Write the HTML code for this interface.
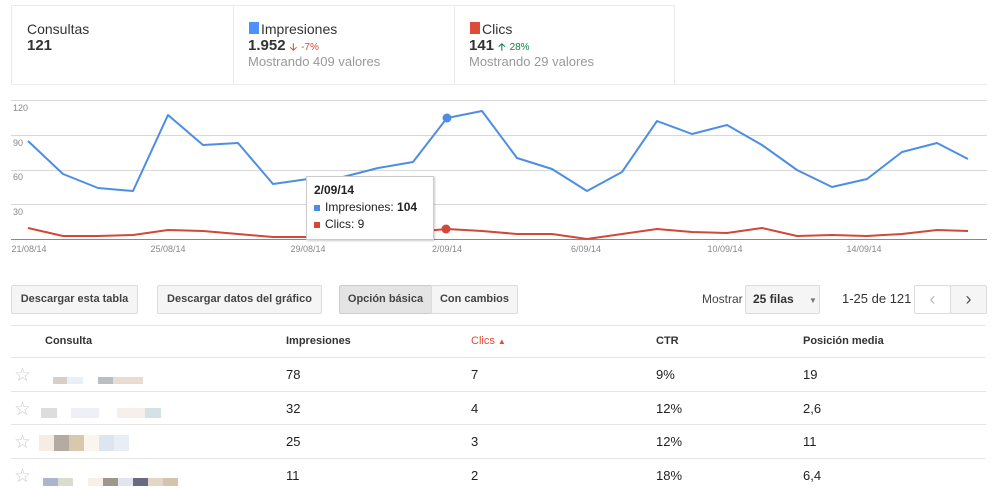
<!DOCTYPE html>
<html><head><meta charset="utf-8"><style>
*{margin:0;padding:0;box-sizing:border-box}
body{width:1008px;height:486px;background:#fff;font-family:"Liberation Sans",Arial,sans-serif;position:relative;overflow:hidden;color:#222}
.a{position:absolute;white-space:nowrap}
.btn{position:absolute;height:29px;border:1px solid #dcdcdc;background:#f5f5f5;font-size:11px;font-weight:bold;color:#444;text-align:center;line-height:27px;border-radius:2px}
.th{position:absolute;top:335px;font-size:11px;font-weight:bold;color:#333}
.td{position:absolute;font-size:13px;color:#222}
.hl{position:absolute;left:11px;width:975px;height:1px;background:#e5e5e5}
.star{position:absolute;left:14px;font-size:19px;color:#ccc}
.px{position:absolute;height:7px}
</style></head><body>
<div class="a" style="left:11px;top:5px;width:664px;height:80px;border:1px solid #ebebeb"></div>
<div class="a" style="left:233px;top:5px;width:1px;height:80px;background:#ebebeb"></div>
<div class="a" style="left:454px;top:5px;width:1px;height:80px;background:#ebebeb"></div>
<div class="a" style="left:11px;top:84px;width:976px;height:1px;background:#ebebeb"></div>
<div class="a" style="left:27px;top:21px;font-size:14px;color:#333">Consultas</div>
<div class="a" style="left:27px;top:37px;font-size:15px;font-weight:bold;color:#333">121</div>
<div class="a" style="left:249px;top:22px;width:10px;height:12px;background:#4d90fe"></div>
<div class="a" style="left:261px;top:21px;font-size:14px;color:#333">Impresiones</div>
<div class="a" style="left:248px;top:37px;font-size:15px;font-weight:bold;color:#333">1.952 <span style="color:#dd4b39;font-size:10px">&#129123;</span> <span style="color:#dd4b39;font-size:10px;font-weight:normal">-7%</span></div>
<div class="a" style="left:248px;top:54px;font-size:13px;color:#999">Mostrando 409 valores</div>
<div class="a" style="left:470px;top:22px;width:10px;height:12px;background:#dd4b39"></div>
<div class="a" style="left:482px;top:21px;font-size:14px;color:#333">Clics</div>
<div class="a" style="left:469px;top:37px;font-size:15px;font-weight:bold;color:#333">141 <span style="color:#0b8043;font-size:10px">&#129121;</span> <span style="color:#0b8043;font-size:10px;font-weight:normal">28%</span></div>
<div class="a" style="left:469px;top:54px;font-size:13px;color:#999">Mostrando 29 valores</div>

<svg class="a" style="left:0;top:0" width="1008" height="270">
<g stroke="#d8d8d8" stroke-width="1">
<line x1="11" x2="987" y1="100.5" y2="100.5"/><line x1="11" x2="987" y1="135.5" y2="135.5"/><line x1="11" x2="987" y1="170.5" y2="170.5"/><line x1="11" x2="987" y1="204.5" y2="204.5"/></g>
<line x1="11" x2="987" y1="239.5" y2="239.5" stroke="#888"/>
<g font-size="9" fill="#888" font-family="Liberation Sans">
<text x="13" y="111">120</text><text x="13" y="146">90</text><text x="13" y="180">60</text><text x="13" y="215">30</text>
<g text-anchor="middle"><text x="29" y="252">21/08/14</text><text x="168" y="252">25/08/14</text><text x="308" y="252">29/08/14</text><text x="447" y="252">2/09/14</text><text x="586" y="252">6/09/14</text><text x="725" y="252">10/09/14</text><text x="864" y="252">14/09/14</text></g></g>
<polyline fill="none" stroke="#4d8ee3" stroke-width="2" stroke-linejoin="round" points="28,141 63,174 98,188 133,191 168,115 203,145 238,143 273,184 308,179 343,177 378,168 413,162 447,118 482,111 517,158 552,169 587,191 622,172 657,121 692,134 727,125 762,145 797,170 832,187 867,179 902,152 937,143 968,159"/>
<polyline fill="none" stroke="#d14836" stroke-width="2" stroke-linejoin="round" points="28,228 63,236 98,236 133,235 168,230 203,231 238,234 273,237 308,237 343,236 378,234 413,232 447,229 482,231 517,234 552,234 587,239 622,234 657,229 692,232 727,233 762,228 797,236 832,235 867,236 902,234 937,230 968,231"/>
<circle cx="447" cy="118" r="4.5" fill="#4d8ee3"/><circle cx="446" cy="229" r="4.5" fill="#d14836"/>
</svg>
<div class="a" style="left:306px;top:176px;width:128px;height:64px;background:#fff;border:1px solid #ccc;box-shadow:1px 1px 2px rgba(0,0,0,.2)"></div>
<div class="a" style="left:314px;top:183px;font-size:12px;font-weight:bold">2/09/14</div>
<div class="a" style="left:314px;top:205px;width:6px;height:6px;background:#4d8ee3"></div>
<div class="a" style="left:325px;top:200px;font-size:12px">Impresiones: <b>104</b></div>
<div class="a" style="left:314px;top:222px;width:6px;height:6px;background:#d14836"></div>
<div class="a" style="left:325px;top:217px;font-size:12px">Clics: 9</div>

<div class="btn" style="left:11px;top:285px;width:127px">Descargar esta tabla</div>
<div class="btn" style="left:157px;top:285px;width:165px">Descargar datos del gráfico</div>
<div class="btn" style="left:339px;top:285px;width:93px;background:#e4e4e4;border-color:#ccc">Opción básica</div>
<div class="btn" style="left:431px;top:285px;width:87px">Con cambios</div>
<div class="a" style="left:702px;top:292px;font-size:12px;color:#444">Mostrar</div>
<div class="btn" style="left:745px;top:285px;width:75px;text-align:left;padding-left:7px;color:#333;font-size:12px">25 filas <span style="color:#777;font-size:8px;margin-left:12px">&#9660;</span></div>
<div class="a" style="left:842px;top:291px;font-size:13px;color:#333">1-25 de 121</div>
<div class="btn" style="left:914px;top:285px;width:37px;background:#fff;color:#bbb;font-size:18px;font-weight:normal">&#8249;</div>
<div class="btn" style="left:950px;top:285px;width:37px;color:#555;font-size:18px;font-weight:normal">&#8250;</div>

<div class="hl" style="top:325px"></div>
<div class="th" style="left:45px">Consulta</div>
<div class="th" style="left:286px">Impresiones</div>
<div class="th" style="left:471px;color:#dd4b39;font-weight:normal">Clics <span style="font-size:8px">&#9650;</span></div>
<div class="th" style="left:656px">CTR</div>
<div class="th" style="left:803px">Posición media</div>
<div class="hl" style="top:357px"></div>
<div class="hl" style="top:391px"></div>
<div class="hl" style="top:424px"></div>
<div class="hl" style="top:458px"></div>

<div class="star" style="top:364px">☆</div><div class="star" style="top:398px">☆</div><div class="star" style="top:431px">☆</div><div class="star" style="top:465px">☆</div>
<div class="px" style="left:53px;top:377px;width:90px;background:linear-gradient(90deg,#d8cfc4 0 14px,#e8f0f6 14px 30px,#fff 30px 45px,#b9bfc0 45px 60px,#e8ddd0 60px)"></div>
<div class="px" style="left:41px;top:408px;width:120px;height:10px;background:linear-gradient(90deg,#ddd 0 16px,#fff 16px 30px,#eef0f5 30px 58px,#fff 58px 76px,#f7efec 76px 104px,#d4e2e6 104px)"></div>
<div class="px" style="left:39px;top:435px;width:90px;height:16px;background:linear-gradient(90deg,#f6ece4 0 15px,#b4aba2 15px 30px,#d7c9ae 30px 45px,#fbf5ee 45px 60px,#dde6f0 60px 75px,#e8eef6 75px)"></div>
<div class="px" style="left:43px;top:478px;width:135px;height:8px;background:linear-gradient(90deg,#aab6cf 0 15px,#d9ddd0 15px 30px,#fff 30px 45px,#f5f1e6 45px 60px,#9d978e 60px 75px,#e3e4ee 75px 90px,#676a80 90px 105px,#e2d7c7 105px 120px,#d3c5ad 120px)"></div>

<div class="td" style="left:286px;top:367px">78</div><div class="td" style="left:471px;top:367px">7</div><div class="td" style="left:656px;top:367px">9%</div><div class="td" style="left:803px;top:367px">19</div>
<div class="td" style="left:286px;top:401px">32</div><div class="td" style="left:471px;top:401px">4</div><div class="td" style="left:656px;top:401px">12%</div><div class="td" style="left:803px;top:401px">2,6</div>
<div class="td" style="left:286px;top:434px">25</div><div class="td" style="left:471px;top:434px">3</div><div class="td" style="left:656px;top:434px">12%</div><div class="td" style="left:803px;top:434px">11</div>
<div class="td" style="left:286px;top:468px">11</div><div class="td" style="left:471px;top:468px">2</div><div class="td" style="left:656px;top:468px">18%</div><div class="td" style="left:803px;top:468px">6,4</div>
</body></html>
